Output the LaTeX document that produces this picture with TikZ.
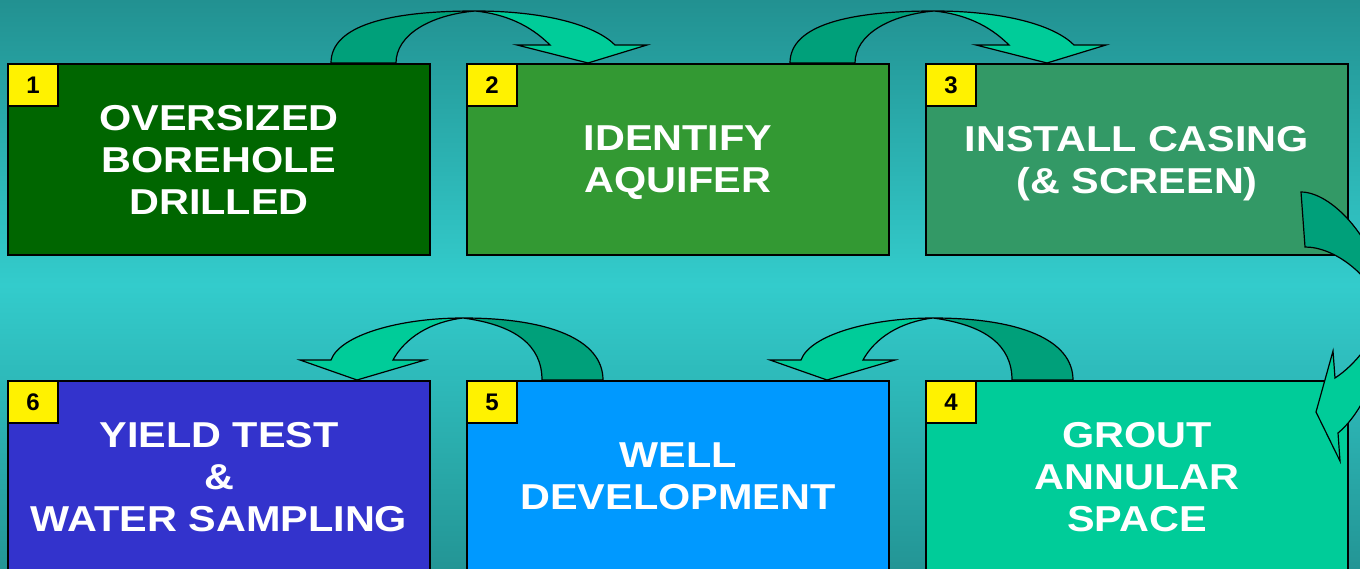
\documentclass[tikz,border=0pt]{standalone}
\usepackage{fontspec}
\newfontfamily\stepfont{Liberation Sans}[FakeStretch=1.15]
\newfontfamily\numfont{Liberation Sans}
\usetikzlibrary{positioning}

\definecolor{bgtop}{HTML}{229191}
\definecolor{bgmid}{HTML}{33CCCC}
\definecolor{bgbot}{HTML}{239595}
\definecolor{drillcol}{HTML}{006600}
\definecolor{aquicol}{HTML}{339933}
\definecolor{casecol}{HTML}{339966}
\definecolor{groutcol}{HTML}{00CC99}
\definecolor{wellcol}{HTML}{0099FF}
\definecolor{yieldcol}{HTML}{3333CC}
\definecolor{arrowdark}{HTML}{00A07A}
\definecolor{arrowlight}{HTML}{00CC99}

\begin{document}
\begin{tikzpicture}[
        x=1pt, y=-1pt,
        stepbox/.style={
            rectangle,
            draw=black,
            line width=1.2pt,
            outer sep=0pt,
            minimum width=422pt,
            minimum height=191pt,
            text=white,
            text depth=0pt,
            align=center,
            font=\stepfont\bfseries\fontsize{36}{42}\selectfont
        },
        numbox/.style={
            rectangle,
            draw=black,
            fill=yellow,
            line width=1.2pt,
            outer sep=0pt,
            minimum width=50pt,
            minimum height=42pt,
            anchor=north west,
            font=\numfont\bfseries\fontsize{24}{26}\selectfont
        },
        arrowback/.style={
            fill=arrowdark,
            draw=black,
            line width=1.2pt
        },
        arrowfront/.style={
            fill=arrowlight,
            draw=black,
            line width=1.2pt
        },
    ]

    \useasboundingbox (0,0) rectangle (1360,569);
    \clip (0,0) rectangle (1360,569);
    \shade [top color=bgtop, bottom color=bgbot, middle color=bgmid] (0,0) rectangle (1360,569);

    % the six steps
    \node (b1) at (219,159.5) [stepbox, fill=drillcol] {OVERSIZED\\BOREHOLE\\DRILLED};
    \node (b2) [stepbox, fill=aquicol, right=37pt of b1] {IDENTIFY\\AQUIFER};
    \node (b3) [stepbox, fill=casecol, right=37pt of b2] {INSTALL CASING\\(\& SCREEN)};
    \node (b6) [stepbox, fill=yieldcol, below=126pt of b1] {YIELD TEST\\\&\\WATER SAMPLING};
    \node (b5) [stepbox, fill=wellcol, right=37pt of b6] {WELL\\DEVELOPMENT};
    \node (b4) [stepbox, fill=groutcol, right=37pt of b5] {GROUT\\ANNULAR\\SPACE};

    \node (n1) at (b1.north west) [numbox] {1};
    \node (n2) at (b2.north west) [numbox] {2};
    \node (n3) at (b3.north west) [numbox] {3};
    \node (n4) at (b4.north west) [numbox] {4};
    \node (n5) at (b5.north west) [numbox] {5};
    \node (n6) at (b6.north west) [numbox] {6};

    % curved arrows on the top row
    \foreach \s in {0,459} {
        \begin{scope}[xshift=\s pt]
            \filldraw [arrowback] (331,63) .. controls (331,25) and (390,11) .. (475,11)
                .. controls (430,15) and (396,35) .. (396,63) -- cycle;
            \filldraw [arrowfront] (475,11) .. controls (545,11) and (595,25) .. (615,45)
                -- (647,45) -- (588,63) -- (517,45) -- (550,45)
                .. controls (530,25) and (505,14) .. (475,11) -- cycle;
        \end{scope}
    }

    % curved arrows on the bottom row
    \foreach \s in {0,470} {
        \begin{scope}[xshift=\s pt]
            \filldraw [arrowback] (603,380) .. controls (603,340) and (550,318) .. (463,318)
                .. controls (515,325) and (542,345) .. (542,380) -- cycle;
            \filldraw [arrowfront] (463,318) .. controls (400,318) and (340,335) .. (331,360)
                -- (300,360) -- (357,380) -- (425,360) -- (393,360)
                .. controls (405,338) and (430,322) .. (463,318) -- cycle;
        \end{scope}
    }

    % arrow down the right side
    \filldraw [arrowback] (1301,192) .. controls (1335,192) and (1385,250) .. (1385,310)
        .. controls (1370,275) and (1335,247) .. (1305,247) -- cycle;
    \filldraw [arrowfront] (1385,310) .. controls (1385,370) and (1360,415) .. (1338,433)
        -- (1340,461) -- (1316,412) -- (1333,351) -- (1335,378)
        .. controls (1355,365) and (1375,340) .. (1385,310) -- cycle;

\end{tikzpicture}
\end{document}
